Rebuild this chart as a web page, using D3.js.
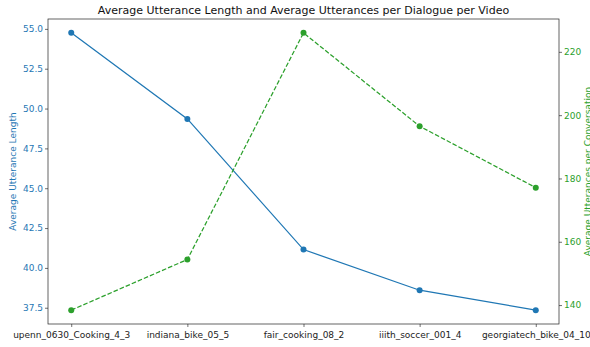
<!DOCTYPE html>
<html>
<head>
<meta charset="utf-8">
<script src="https://cdn.jsdelivr.net/npm/d3@7"></script>
<style>
  body { margin: 0; background: #fff; }
  svg { font-family: "DejaVu Sans", sans-serif; }
</style>
</head>
<body>
<div id="chart"></div>
<script>
var videos = ["upenn_0630_Cooking_4_3", "indiana_bike_05_5", "fair_cooking_08_2", "iiith_soccer_001_4", "georgiatech_bike_04_10"];
var avgLength = [54.75, 49.35, 41.15, 38.6, 37.35];
var avgUtterances = [138.4, 154.4, 226.0, 196.5, 177.1];
var leftTicks = [37.5, 40.0, 42.5, 45.0, 47.5, 50.0, 52.5, 55.0];
var rightTicks = [140, 160, 180, 200, 220];

var width = 590, height = 347;
var margin = { top: 19, right: 31, bottom: 23, left: 48 };
var blue = "#1f77b4", green = "#2ca02c";

var svg = d3.select("#chart").append("svg")
    .attr("width", width)
    .attr("height", height);

// matplotlib-like 5% padding
function padded(vals) {
    var lo = d3.min(vals), hi = d3.max(vals), p = (hi - lo) * 0.05;
    return [lo - p, hi + p];
}

var x = d3.scaleLinear()
    .domain([-0.2, videos.length - 0.8])
    .range([margin.left, width - margin.right]);
var yL = d3.scaleLinear()
    .domain(padded(avgLength))
    .range([height - margin.bottom, margin.top]);
var yR = d3.scaleLinear()
    .domain(padded(avgUtterances))
    .range([height - margin.bottom, margin.top]);

// axes
var xAxis = svg.append("g")
    .attr("transform", "translate(0," + (height - margin.bottom) + ")")
    .call(d3.axisBottom(x).tickValues(d3.range(videos.length)).tickFormat(function(i) { return videos[i]; }).tickSize(3).tickSizeOuter(0));
var lAxis = svg.append("g")
    .attr("transform", "translate(" + margin.left + ",0)")
    .call(d3.axisLeft(yL).tickValues(leftTicks).tickFormat(d3.format(".1f")).tickSize(3).tickSizeOuter(0));
var rAxis = svg.append("g")
    .attr("transform", "translate(" + (width - margin.right) + ",0)")
    .call(d3.axisRight(yR).tickValues(rightTicks).tickSize(3).tickSizeOuter(0));

[xAxis, lAxis, rAxis].forEach(function(a) {
    a.select(".domain").remove();
    a.selectAll("line").attr("stroke", "#333").attr("stroke-width", 0.7);
    a.selectAll("text").attr("font-size", "9px").attr("font-family", "DejaVu Sans");
});
xAxis.selectAll("text").attr("fill", "#222").attr("dy", "0.85em");
lAxis.selectAll("text").attr("fill", blue).attr("x", -5);
rAxis.selectAll("text").attr("fill", green).attr("x", 5);

// frame
svg.append("rect")
    .attr("x", margin.left)
    .attr("y", margin.top)
    .attr("width", width - margin.left - margin.right)
    .attr("height", height - margin.top - margin.bottom)
    .attr("fill", "none")
    .attr("stroke", "#222")
    .attr("stroke-width", 0.7);

// series
var lineL = d3.line().x(function(d, i) { return x(i); }).y(function(d) { return yL(d); });
var lineR = d3.line().x(function(d, i) { return x(i); }).y(function(d) { return yR(d); });

svg.append("path")
    .datum(avgLength)
    .attr("d", lineL)
    .attr("fill", "none")
    .attr("stroke", blue)
    .attr("stroke-width", 1.25);
svg.selectAll(".ptL")
    .data(avgLength)
    .enter().append("circle")
    .attr("class", "ptL")
    .attr("cx", function(d, i) { return x(i); })
    .attr("cy", function(d) { return yL(d); })
    .attr("r", 3)
    .attr("fill", blue);

svg.append("path")
    .datum(avgUtterances)
    .attr("d", lineR)
    .attr("fill", "none")
    .attr("stroke", green)
    .attr("stroke-width", 1.25)
    .attr("stroke-dasharray", "4.6,2");
svg.selectAll(".ptR")
    .data(avgUtterances)
    .enter().append("circle")
    .attr("class", "ptR")
    .attr("cx", function(d, i) { return x(i); })
    .attr("cy", function(d) { return yR(d); })
    .attr("r", 3)
    .attr("fill", green);

// labels
var midY = (margin.top + height - margin.bottom) / 2;
svg.append("text")
    .attr("x", (margin.left + width - margin.right) / 2)
    .attr("y", 14)
    .attr("text-anchor", "middle")
    .attr("font-size", "11px")
    .attr("fill", "#111")
    .text("Average Utterance Length and Average Utterances per Dialogue per Video");
svg.append("text")
    .attr("transform", "translate(16," + midY + ") rotate(-90)")
    .attr("text-anchor", "middle")
    .attr("font-size", "9px")
    .attr("fill", blue)
    .text("Average Utterance Length");
// right label sits partly past the edge, as in the original
svg.append("text")
    .attr("transform", "translate(591," + midY + ") rotate(-90)")
    .attr("text-anchor", "middle")
    .attr("font-size", "9px")
    .attr("fill", green)
    .text("Average Utterances per Conversation");
</script>
</body>
</html>
